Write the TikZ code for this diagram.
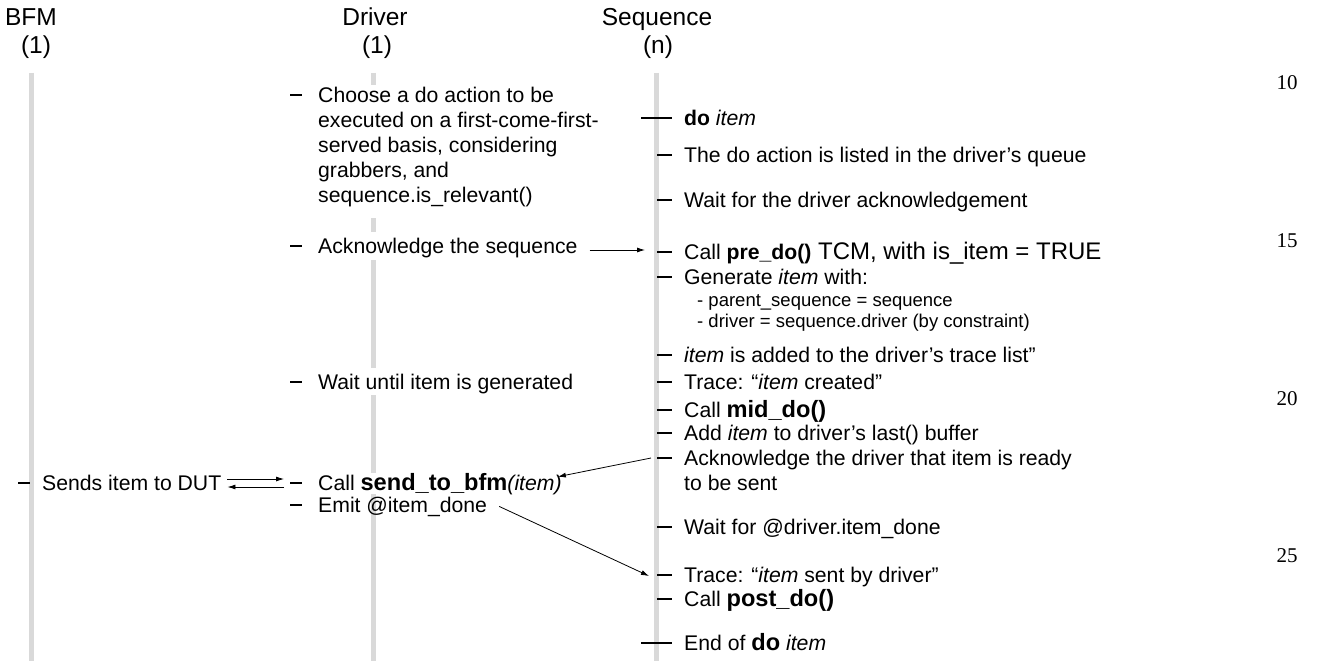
\documentclass[tikz,border=0pt]{standalone}
\usepackage{fontspec}
\setmainfont{Liberation Sans}
\newfontfamily\numfont{Liberation Serif}
\usetikzlibrary{arrows.meta,calc}
\definecolor{lifegray}{HTML}{D9D9D9}
\newcommand\bigfn[1]{{\bfseries\fontsize{23.6}{28}\selectfont #1}}

\begin{document}
\begin{tikzpicture}[x=1pt,y=-1pt,
  life/.style={draw=lifegray, line width=5pt},
  tick/.style={draw=black, line width=2pt},
  msg/.style={draw=black, line width=0.8pt, -{Latex[length=8pt,width=5pt]}},
  lbl/.style={anchor=base west, inner sep=0pt, font=\fontsize{21.2}{25}\selectfont},
  small/.style={anchor=base west, inner sep=0pt, font=\fontsize{18.5}{22}\selectfont},
  head/.style={anchor=base, inner sep=0pt, font=\fontsize{24.5}{28}\selectfont},
  lnum/.style={anchor=base, inner sep=0pt, font=\numfont\fontsize{21}{24}\selectfont}]
\useasboundingbox (0,0) rectangle (1322,661);

% column headers
\node[head] (hbfm) at (31,26) {BFM};
\node[head] (nbfm) at (36,53) {(1)};
\node[head] (hdrv) at (375,26) {Driver};
\node[head] (ndrv) at (377,53) {(1)};
\node[head] (hseq) at (657,26) {Sequence};
\node[head] (nseq) at (658,53) {(n)};

% lifelines
\draw[life] (31,73) -- (31,661);
\draw[life] (656,73) -- (656,661);
\draw[life] (373,73) -- (373,85) (373,218) -- (373,232)
            (373,260) -- (373,368) (373,395) -- (373,661);

% line numbers
\node[lnum] (n10) at (1287,89) {10};
\node[lnum] (n15) at (1287,247) {15};
\node[lnum] (n20) at (1287,405) {20};
\node[lnum] (n25) at (1287,562) {25};

% BFM
\draw[tick] (18,483) -- (30,483);
\node[lbl] (sends) at (42,490) {Sends item to DUT};

% Driver
\draw[tick] (290,95) -- (302,95);
\node[lbl] (ch1) at (318,102) {Choose a do action to be};
\node[lbl] (ch2) at (318,127) {executed on a first-come-first-};
\node[lbl] (ch3) at (318,152) {served basis, considering};
\node[lbl] (ch4) at (318,177) {grabbers, and};
\node[lbl] (ch5) at (318,202) {sequence.is\_relevant()};
\draw[tick] (290,246) -- (302,246);
\node[lbl] (ackseq) at (318,253) {Acknowledge the sequence};
\draw[tick] (290,382) -- (302,382);
\node[lbl] (waitgen) at (318,389) {Wait until item is generated};
\draw[tick] (290,483) -- (302,483);
\node[lbl, fill=white] (callsend) at (318,490) {Call \bigfn{send\_to\_bfm}\textit{(item)}};
\draw[tick] (290,505) -- (302,505);
\node[lbl] (emit) at (318,512) {Emit @item\_done};

% Sequence
\draw[tick] (641,118) -- (672,118);
\node[lbl] (doit) at (684,125) {\textbf{do} \textit{item}};
\draw[tick] (657,155) -- (672,155);
\node[lbl] (queue) at (684,162) {The do action is listed in the driver’s queue};
\draw[tick] (657,200) -- (672,200);
\node[lbl] (waitack) at (684,207) {Wait for the driver acknowledgement};
\draw[tick] (657,252) -- (672,252);
\node[lbl] (pre) at (684,259) {Call \textbf{pre\_do()}{\fontsize{24}{28}\selectfont{} TCM, with is\_item = TRUE}};
\draw[tick] (657,277) -- (672,277);
\node[lbl] (gen) at (684,284) {Generate \textit{item} with:};
\node[small] (gen1) at (697,306) {- parent\_sequence = sequence};
\node[small] (gen2) at (697,327) {- driver = sequence.driver (by constraint)};
\draw[tick] (657,355) -- (672,355);
\node[lbl] (added) at (684,362) {\textit{item} is added to the driver’s trace list”};
\draw[tick] (657,382) -- (672,382);
\node[lbl] (created) at (684,389) {Trace: “\textit{item} created”};
\draw[tick] (657,410) -- (672,410);
\node[lbl] (mid) at (684,417) {Call \bigfn{mid\_do()}};
\draw[tick] (657,433) -- (672,433);
\node[lbl] (last) at (684,440) {Add \textit{item} to driver’s last() buffer};
\draw[tick] (657,458) -- (672,458);
\node[lbl] (ackdrv1) at (684,465) {Acknowledge the driver that item is ready};
\node[lbl] (ackdrv2) at (684,490) {to be sent};
\draw[tick] (657,527) -- (672,527);
\node[lbl] (waitdone) at (684,534) {Wait for @driver.item\_done};
\draw[tick] (657,575) -- (672,575);
\node[lbl] (sent) at (684,582) {Trace: “\textit{item} sent by driver”};
\draw[tick] (657,599) -- (672,599);
\node[lbl] (post) at (684,606) {Call \bigfn{post\_do()}};
\draw[tick] (641,643) -- (672,643);
\node[lbl] (enddo) at (684,650) {End of \bigfn{do} \textit{item}};

% message arrows
\coordinate (tpre) at (645,250);
\draw[msg] ([xshift=12pt]ackseq.east |- tpre) -- (tpre);
\coordinate (dup) at (284,479);
\coordinate (dlo) at (284,487);
\draw[msg] ([xshift=6pt]sends.east |- dup) -- (dup);
\draw[msg] (dlo) -- ([xshift=6pt]sends.east |- dlo);
\coordinate (sack) at (651,458);
\draw[msg] (sack) -- ($(callsend.north east)+(-4,4)$);
\coordinate (tsent) at (649,576);
\draw[msg] ([xshift=12pt]emit.east) -- (tsent);
\end{tikzpicture}
\end{document}
